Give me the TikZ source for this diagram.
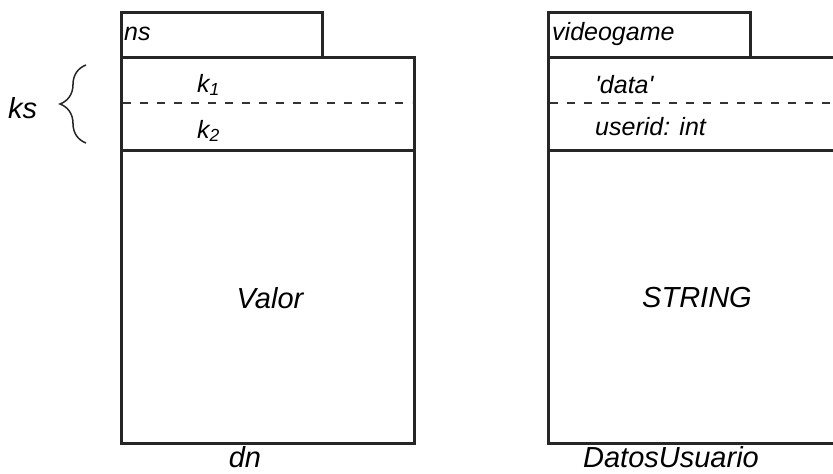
\documentclass[tikz,border=0pt]{standalone}
\usepackage{fontspec}
\setmainfont{Liberation Sans}
\usetikzlibrary{decorations.pathreplacing}

\tikzset{
  caja/.style={draw=black!85,line width=3pt},
  sep/.style={draw=black!80,line width=2.2pt,dash pattern=on 8pt off 9pt},
  etq/.style={inner sep=0pt,font=\fontsize{25}{28}\selectfont\itshape},
  grande/.style={inner sep=0pt,anchor=base,font=\fontsize{29}{33}\selectfont\itshape}
}

\begin{document}
\begin{tikzpicture}[x=1pt,y=-1pt]
	\clip (0,0) rectangle (833,474);
	\fill[white] (0,0) rectangle (833,474);
	% esquema general
		\draw[caja] (121,12) rectangle (322,57);
		\draw[caja] (121,57) rectangle (414,150);
		\draw[caja] (121,150) rectangle (414,443);
		\draw[sep] (123,103) -- (412,103);
			\node[etq,anchor=west] (ns) at (124,34) {ns};
			\node[etq,anchor=west] (k1) at (197,85) {k\textsubscript{1}};
			\node[etq,anchor=west] (k2) at (197,131) {k\textsubscript{2}};
			\node[grande] (valor) at (270,308) {Valor};
			\node[grande] (dn) at (245,467) {dn};
			\node[grande,anchor=west] (ks) at (8,108) {ks};
		\coordinate (llaveA) at (86,143);
		\coordinate (llaveB) at (86,65);
		\draw[black!85,line width=1.5pt,decorate,decoration={brace,amplitude=26pt}] (llaveA) -- (llaveB);
	% ejemplo
		\draw[caja] (548,12) rectangle (750,57);
		\draw[caja] (548,57) rectangle (841,150);
		\draw[caja] (548,150) rectangle (841,443);
		\draw[sep] (550,103) -- (839,103);
			\node[etq,anchor=west] (vg) at (552,34) {videogame};
			\node[etq,anchor=west] (data) at (595,85) {\textquotesingle data\textquotesingle};
			\node[etq,anchor=west] (uid) at (595,127) {userid: int};
			\node[grande] (str) at (697,307) {STRING};
			\node[grande] (du) at (671,467) {DatosUsuario};
\end{tikzpicture}
\end{document}
